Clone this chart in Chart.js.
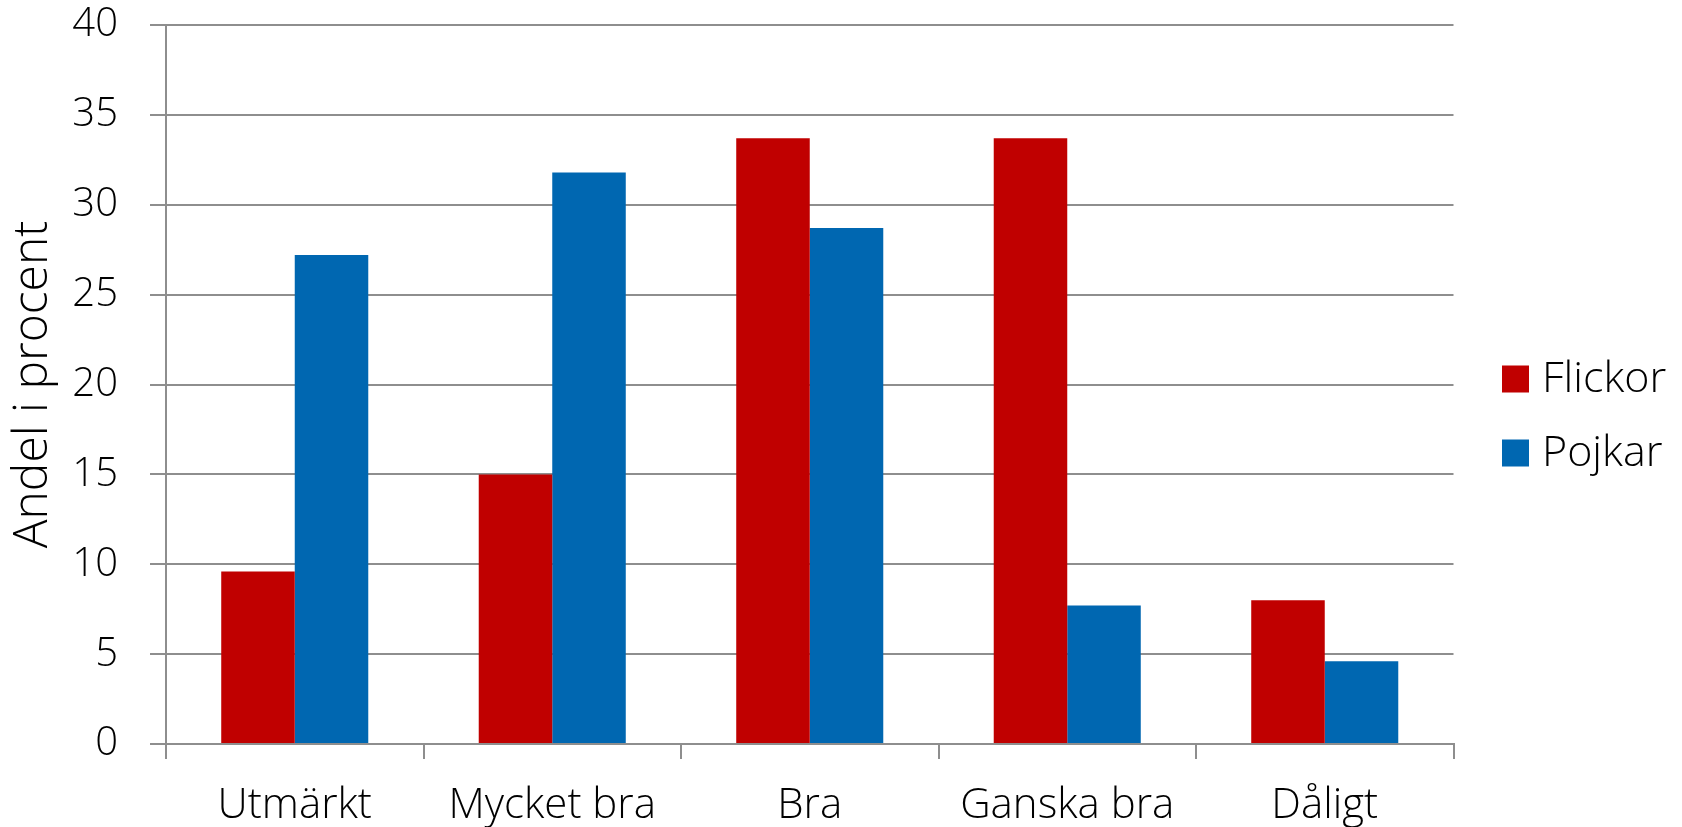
<!DOCTYPE html>
<html>
<head>
<meta charset="utf-8">
<script src="https://cdn.jsdelivr.net/npm/chart.js@4/dist/chart.umd.min.js"></script>
<style>
  html, body { margin: 0; padding: 0; background: #fff; }
  #wrap { width: 1682px; height: 827px; position: relative; }
</style>
</head>
<body>
<div id="wrap"><canvas id="c"></canvas></div>
<script>
const categories = ['Utmärkt', 'Mycket bra', 'Bra', 'Ganska bra', 'Dåligt'];
const seriesNames = ['Flickor', 'Pojkar'];
const flickor = [9.6, 15.0, 33.7, 33.7, 8.0];
const pojkar = [27.2, 31.8, 28.7, 7.7, 4.6];
const seriesColors = ['#C00000', '#0067B1'];
const yTitle = 'Andel i procent';

const FONT = '"Open Sans", "Segoe UI", sans-serif';

const legendPlugin = {
  id: 'sideLegend',
  afterDraw(chart) {
    const ctx = chart.ctx;
    ctx.save();
    ctx.font = '300 43px ' + FONT;
    ctx.textBaseline = 'middle';
    ctx.textAlign = 'left';
    chart.data.datasets.forEach((ds, i) => {
      const cy = 379 + i * 74;
      ctx.fillStyle = ds.backgroundColor;
      ctx.fillRect(1502, cy - 13.5, 27, 27);
      ctx.fillStyle = '#000';
      ctx.fillText(ds.label, 1542, cy + 1);
    });
    ctx.restore();
  }
};

new Chart(document.getElementById('c'), {
  type: 'bar',
  data: {
    labels: categories,
    datasets: [
      { label: seriesNames[0], data: flickor, backgroundColor: seriesColors[0] },
      { label: seriesNames[1], data: pojkar, backgroundColor: seriesColors[1] }
    ]
  },
  options: {
    responsive: true,
    maintainAspectRatio: false,
    animation: false,
    datasets: { bar: { categoryPercentage: 0.571, barPercentage: 1.0 } },
    layout: { padding: { top: 25, right: 228.5, bottom: 0, left: 0 } },
    plugins: { legend: { display: false }, tooltip: { enabled: false } },
    scales: {
      x: {
        grid: { display: true, drawOnChartArea: false, drawTicks: true, tickLength: 15, color: '#8e8e8e', lineWidth: 2, offset: true },
        border: { display: true, color: '#8e8e8e', width: 2 },
        ticks: { color: '#000', padding: 22, font: { family: FONT, size: 42, weight: 300 }, maxRotation: 0 },
        afterFit(scale) { scale.height = 83; }
      },
      y: {
        min: 0, max: 40,
        ticks: { stepSize: 5, color: '#000', padding: 32, font: { family: FONT, size: 40, weight: 300 } },
        grid: { color: '#8e8e8e', lineWidth: 2, tickLength: 16, drawTicks: true },
        border: { display: true, color: '#8e8e8e', width: 2 },
        title: { display: true, text: yTitle, color: '#000', font: { family: FONT, size: 48, weight: 300 }, padding: { top: 5, bottom: 0 } },
        afterFit(scale) { scale.width = 166; scale.paddingTop = 25; scale.paddingBottom = 0; }
      }
    }
  },
  plugins: [legendPlugin]
});
</script>
</body>
</html>
